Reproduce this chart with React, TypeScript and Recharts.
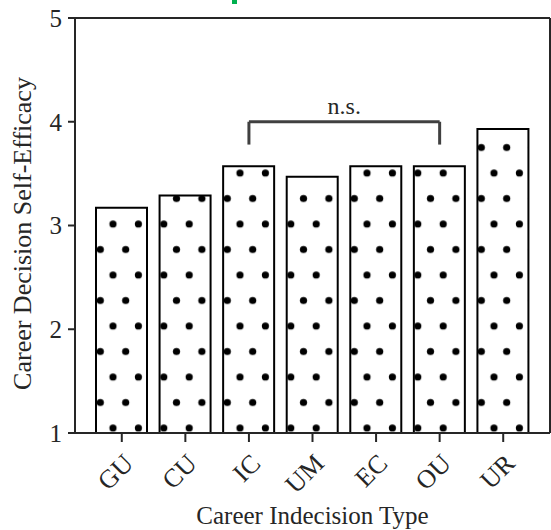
import React from "react";
import { BarChart, Bar, XAxis, YAxis, ReferenceLine } from "recharts";

const types = ["GU", "CU", "IC", "UM", "EC", "OU", "UR"];
const efficacy = [3.17, 3.29, 3.57, 3.47, 3.57, 3.57, 3.93];
const yTicks = [1, 2, 3, 4, 5];

const FONT = "'Liberation Serif', 'Times New Roman', serif";
const INK = "#262626";

const data = types.map((type, i) => ({ type, value: efficacy[i] }));

const AngledTick = (props: any) => {
  const { x, y, payload } = props;
  return (
    <text
      transform={`translate(${x + 13},${y + 21}) rotate(-45)`}
      textAnchor="end"
      fontFamily={FONT}
      fontSize={26}
      fill={INK}
    >
      {payload.value}
    </text>
  );
};

const YTitle = (props: any) => {
  const { viewBox } = props;
  const cx = 22;
  const cy = viewBox.y + viewBox.height / 2 + 8;
  return (
    <text
      transform={`translate(${cx},${cy}) rotate(-90)`}
      textAnchor="middle"
      dominantBaseline="central"
      fontFamily={FONT}
      fontSize={26}
      fill={INK}
    >
      Career Decision Self-Efficacy
    </text>
  );
};

export default function App() {
  return (
    <div style={{ position: "absolute", left: 0, top: 0, width: 551, height: 530 }}>
      <BarChart
        width={551}
        height={530}
        data={data}
        margin={{ top: 18, right: 0, left: 0, bottom: 0 }}
      >
        <defs>
          <pattern
            id="dots"
            patternUnits="userSpaceOnUse"
            x={106.65}
            y={211.25}
            width={25.4}
            height={51}
          >
            <rect width={25.4} height={51} fill="#fff" />
            <circle cx={6.35} cy={12.75} r={3.6} fill="#000" />
            <circle cx={19.05} cy={38.25} r={3.6} fill="#000" />
          </pattern>
        </defs>
        <rect x={232} y={0} width={5} height={4} fill="#00b04f" />
        <XAxis
          dataKey="type"
          padding={{ left: 15, right: 15 }}
          height={97}
          tickSize={9}
          tickMargin={2}
          tickLine={{ stroke: INK, strokeWidth: 2 }}
          axisLine={{ stroke: INK, strokeWidth: 2 }}
          tick={<AngledTick />}
          interval={0}
          label={{
            value: "Career Indecision Type",
            position: "insideBottom",
            offset: 6,
            fontFamily: FONT,
            fontSize: 25,
            fill: INK,
          }}
        />
        <YAxis
          domain={[1, 5]}
          ticks={yTicks}
          width={75}
          tickSize={7}
          tickMargin={6}
          tickLine={{ stroke: INK, strokeWidth: 2 }}
          axisLine={{ stroke: INK, strokeWidth: 2 }}
          tick={{ fontFamily: FONT, fontSize: 25, fill: INK }}
          label={<YTitle />}
        />
        <YAxis
          yAxisId="right"
          orientation="right"
          domain={[1, 5]}
          width={1}
          tick={false}
          tickLine={false}
          axisLine={{ stroke: INK, strokeWidth: 2 }}
        />
        <ReferenceLine y={5} stroke={INK} strokeWidth={2} />
        <Bar
          dataKey="value"
          barSize={51}
          fill="url(#dots)"
          stroke="#000"
          strokeWidth={2}
          isAnimationActive={false}
        />
        <ReferenceLine
          segment={[{ x: "IC", y: 4 }, { x: "OU", y: 4 }]}
          stroke="#404040"
          strokeWidth={3}
          label={{
            value: "n.s.",
            position: "top",
            offset: 8,
            fontFamily: FONT,
            fontSize: 24,
            fill: INK,
          }}
        />
        <ReferenceLine
          segment={[{ x: "IC", y: 4 }, { x: "IC", y: 3.78 }]}
          stroke="#404040"
          strokeWidth={3}
        />
        <ReferenceLine
          segment={[{ x: "OU", y: 4 }, { x: "OU", y: 3.78 }]}
          stroke="#404040"
          strokeWidth={3}
        />
      </BarChart>
    </div>
  );
}
